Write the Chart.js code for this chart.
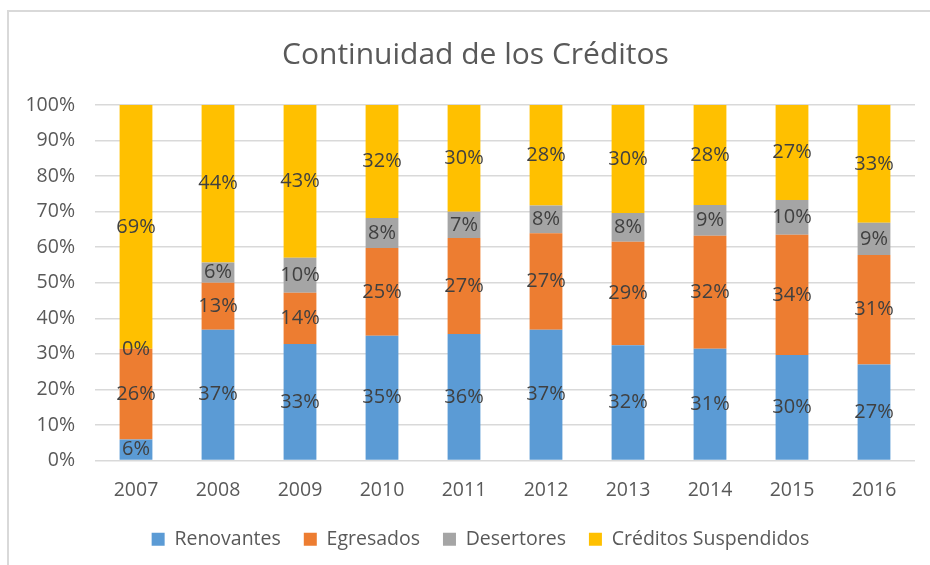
<!DOCTYPE html>
<html>
<head>
<meta charset="utf-8">
<script src="https://cdn.jsdelivr.net/npm/chart.js@4/dist/chart.umd.min.js"></script>
<style>
  html, body { margin: 0; padding: 0; background: #ffffff; }
  #frame { position: absolute; left: 7px; top: 10px; width: 930px; height: 565px;
           border-left: 2px solid #d9d9d9; border-top: 2px solid #d9d9d9; }
  #wrap { position: absolute; left: 0; top: 0; width: 930px; height: 565px; }
</style>
</head>
<body>
<div id="frame"></div>
<div id="wrap"><canvas id="c" width="930" height="565"></canvas></div>
<script>
const years = ['2007','2008','2009','2010','2011','2012','2013','2014','2015','2016'];
const renovantes = [5.9, 36.8, 32.8, 35.1, 35.6, 36.8, 32.4, 31.4, 29.7, 27.0];
const egresados  = [25.5, 13.2, 14.4, 24.7, 27.0, 27.1, 29.1, 31.8, 33.8, 30.8];
const desertores = [0.0, 5.7, 9.8, 8.4, 7.4, 7.8, 8.1, 8.7, 9.8, 9.1];
const suspendidos = [68.6, 44.3, 43.0, 31.8, 30.0, 28.3, 30.4, 28.1, 26.7, 33.1];
const seriesNames = ['Renovantes', 'Egresados', 'Desertores', 'Créditos Suspendidos'];
const seriesColors = ['#5B9BD5', '#ED7D31', '#A5A5A5', '#FFC000'];
const yTicks = [0,10,20,30,40,50,60,70,80,90,100];

const FONT = '"Open Sans", "Liberation Sans", sans-serif';
const TXT = '#595959';

const labelPlugin = {
  id: 'segLabels',
  afterDatasetsDraw(chart) {
    const ctx = chart.ctx;
    ctx.save();
    ctx.font = '20px ' + FONT;
    ctx.fillStyle = '#404040';
    ctx.textAlign = 'center';
    ctx.textBaseline = 'middle';
    chart.data.datasets.forEach((ds, i) => {
      const meta = chart.getDatasetMeta(i);
      meta.data.forEach((el, j) => {
        const v = ds.data[j];
        const y = (el.y + el.base) / 2;
        ctx.fillText(Math.round(v) + '%', el.x, y);
      });
    });
    ctx.restore();
  }
};

// shift title and legend to the right (they are centred on the frame, not the canvas)
const shiftPlugin = {
  id: 'shiftBoxes',
  afterLayout(chart) {
    if (chart.titleBlock) { chart.titleBlock.left += 18; chart.titleBlock.right += 18; }
    if (chart.legend) { chart.legend.left += 23; chart.legend.right += 23; }
  }
};

const datasets = [renovantes, egresados, desertores, suspendidos].map((d, i) => ({
  label: seriesNames[i],
  data: d,
  backgroundColor: seriesColors[i],
  borderWidth: 0,
  categoryPercentage: 1.0,
  barPercentage: 0.4
}));

new Chart(document.getElementById('c'), {
  type: 'bar',
  data: { labels: years, datasets },
  options: {
    responsive: false,
    animation: false,
    layout: { padding: { left: 0, right: 15, top: 0, bottom: 6 } },
    plugins: {
      title: {
        display: true,
        text: 'Continuidad de los Créditos',
        color: TXT,
        font: { family: FONT, size: 30, weight: 'normal' },
        padding: { top: 37, bottom: 32 }
      },
      legend: {
        position: 'bottom',
        labels: {
          color: TXT,
          font: { family: FONT, size: 19.5 },
          boxWidth: 13, boxHeight: 13,
          padding: 23
        }
      },
      tooltip: { enabled: false }
    },
    scales: {
      x: {
        stacked: true,
        grid: { display: false, drawTicks: false },
        border: { display: false },
        ticks: { color: TXT, font: { family: FONT, size: 19.5 }, padding: 18 },
        afterFit(s) { s.height = 46; }
      },
      y: {
        stacked: true,
        min: 0, max: 100,
        afterBuildTicks(s) { s.ticks = yTicks.map(v => ({ value: v })); },
        grid: { color: '#D9D9D9', lineWidth: 1.5, drawTicks: false },
        border: { display: false },
        ticks: { color: TXT, font: { family: FONT, size: 19.5 }, padding: 20,
                 callback: v => v + '%' },
        afterFit(s) { s.width = 95; }
      }
    }
  },
  plugins: [labelPlugin, shiftPlugin]
});
</script>
</body>
</html>
